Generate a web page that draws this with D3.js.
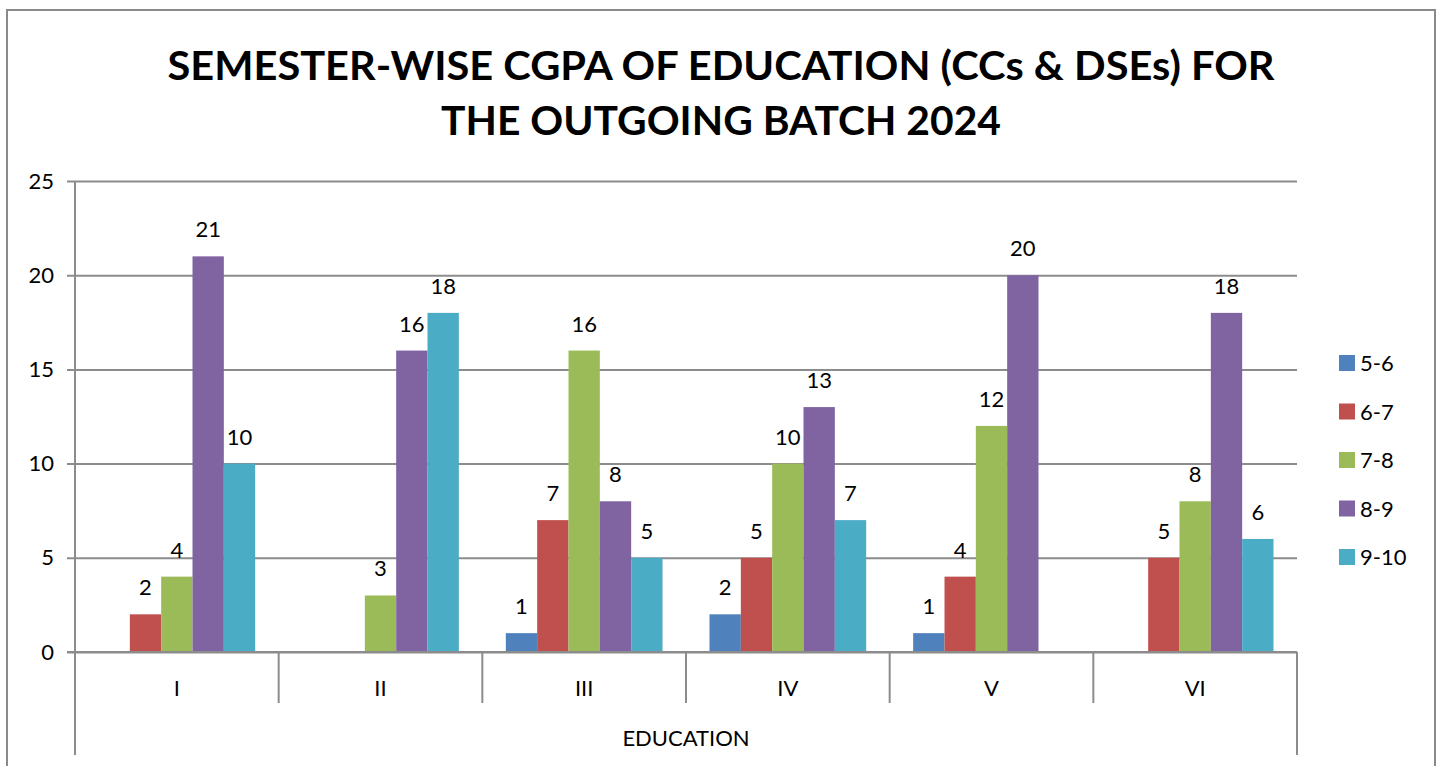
<!DOCTYPE html>
<html>
<head>
<meta charset="utf-8">
<script src="https://cdnjs.cloudflare.com/ajax/libs/d3/7.8.5/d3.min.js"></script>
<style>
  body { margin: 0; background: #fff; }
  svg { display: block; font-family: Lato, "Open Sans", sans-serif; }
</style>
</head>
<body>
<svg></svg>
<script>
// data
var semesters = ["I", "II", "III", "IV", "V", "VI"];
var seriesNames = ["5-6", "6-7", "7-8", "8-9", "9-10"];
var s56 = [0, 0, 1, 2, 1, 0];
var s67 = [2, 0, 7, 5, 4, 5];
var s78 = [4, 3, 16, 10, 12, 8];
var s89 = [21, 16, 8, 13, 20, 18];
var s910 = [10, 18, 5, 7, 0, 6];
var yTicks = [0, 5, 10, 15, 20, 25];

var seriesValues = [s56, s67, s78, s89, s910];
var colors = ["#4F81BD", "#C0504D", "#9BBB59", "#8064A2", "#4BACC6"];

var svgWidth = 1442, svgHeight = 766;
var plot = { left: 75, right: 1297, top: 181, bottom: 652 };
var gridColor = "#8c8c8c";
var fs = 22;

var svg = d3.select("svg")
    .attr("width", svgWidth)
    .attr("height", svgHeight);

// outer chart border
svg.append("rect")
    .attr("x", 7).attr("y", 10)
    .attr("width", 1428).attr("height", 780)
    .attr("fill", "none")
    .attr("stroke", "#8a8a8a")
    .attr("stroke-width", 2);

// title
var title = svg.append("text")
    .attr("text-anchor", "middle")
    .attr("font-weight", "bold")
    .attr("font-size", 40)
    .attr("fill", "#000");
title.append("tspan").attr("x", 721).attr("y", 80)
    .attr("textLength", 1107).attr("lengthAdjust", "spacingAndGlyphs")
    .text("SEMESTER-WISE CGPA OF EDUCATION (CCs & DSEs) FOR");
title.append("tspan").attr("x", 721).attr("y", 135)
    .attr("textLength", 560).attr("lengthAdjust", "spacingAndGlyphs")
    .text("THE OUTGOING BATCH 2024");

// scales
var xScale = d3.scaleBand()
    .domain(semesters)
    .range([plot.left, plot.right])
    .paddingInner(0).paddingOuter(0);

var xInner = d3.scaleBand()
    .domain(seriesNames)
    .range([0, xScale.bandwidth()])
    .paddingInner(0).paddingOuter(0.75);

var yScale = d3.scaleLinear()
    .domain([0, 25])
    .range([plot.bottom, plot.top]);

// y axis with gridlines
var yAxis = d3.axisLeft(yScale)
    .tickValues(yTicks)
    .tickSize(-(plot.right - plot.left))
    .tickPadding(21);

var gy = svg.append("g")
    .attr("transform", "translate(" + plot.left + ",0)")
    .call(yAxis);
gy.select(".domain").remove();
gy.selectAll(".tick line")
    .attr("x1", -8)
    .attr("stroke", gridColor)
    .attr("stroke-width", 2);
gy.selectAll(".tick text")
    .attr("font-size", fs)
    .attr("fill", "#000")
    .attr("font-family", "Lato, 'Open Sans', sans-serif");

// vertical axis line
svg.append("line")
    .attr("x1", plot.left).attr("x2", plot.left)
    .attr("y1", plot.top).attr("y2", 755)
    .attr("stroke", gridColor).attr("stroke-width", 2);

// category separators below the axis
var bounds = semesters.map(function(d) { return xScale(d); }).concat([plot.right]);
svg.selectAll(".sep")
    .data(bounds)
    .enter()
    .append("line")
    .attr("class", "sep")
    .attr("x1", function(d) { return d; })
    .attr("x2", function(d) { return d; })
    .attr("y1", plot.bottom)
    .attr("y2", function(d, i) { return (i === 0 || i === bounds.length - 1) ? 755 : 703; })
    .attr("stroke", gridColor).attr("stroke-width", 2);

// bars
var groups = svg.selectAll(".grp")
    .data(semesters)
    .enter()
    .append("g")
    .attr("class", "grp")
    .attr("transform", function(d) { return "translate(" + xScale(d) + ",0)"; });

groups.selectAll("rect")
    .data(function(d, i) {
        return seriesNames.map(function(s, j) { return { s: s, v: seriesValues[j][i], c: colors[j] }; });
    })
    .enter()
    .append("rect")
    .attr("x", function(d) { return xInner(d.s); })
    .attr("width", xInner.bandwidth())
    .attr("y", function(d) { return yScale(d.v); })
    .attr("height", function(d) { return yScale(0) - yScale(d.v); })
    .attr("fill", function(d) { return d.c; });

// value labels (only non zero)
groups.selectAll(".lbl")
    .data(function(d, i) {
        return seriesNames.map(function(s, j) { return { s: s, v: seriesValues[j][i] }; })
            .filter(function(d) { return d.v > 0; });
    })
    .enter()
    .append("text")
    .attr("class", "lbl")
    .attr("x", function(d) { return xInner(d.s) + xInner.bandwidth() / 2; })
    .attr("y", function(d) { return yScale(d.v) - 19; })
    .attr("text-anchor", "middle")
    .attr("font-size", fs)
    .attr("fill", "#000")
    .text(function(d) { return d.v; });

// redraw x axis line on top
svg.append("line")
    .attr("x1", plot.left - 8).attr("x2", plot.right)
    .attr("y1", plot.bottom).attr("y2", plot.bottom)
    .attr("stroke", gridColor).attr("stroke-width", 2);

// category labels
svg.selectAll(".cat")
    .data(semesters)
    .enter()
    .append("text")
    .attr("class", "cat")
    .attr("x", function(d) { return xScale(d) + xScale.bandwidth() / 2; })
    .attr("y", 696)
    .attr("text-anchor", "middle")
    .attr("font-size", fs)
    .text(function(d) { return d; });

svg.append("text")
    .attr("x", (plot.left + plot.right) / 2)
    .attr("y", 746)
    .attr("text-anchor", "middle")
    .attr("font-size", fs)
    .text("EDUCATION");

// legend
var legend = svg.selectAll(".leg")
    .data(seriesNames)
    .enter()
    .append("g")
    .attr("class", "leg")
    .attr("transform", function(d, i) { return "translate(1339," + (363 + i * 48.5) + ")"; });

legend.append("rect")
    .attr("x", 0).attr("y", -8)
    .attr("width", 16).attr("height", 16)
    .attr("fill", function(d, i) { return colors[i]; });

legend.append("text")
    .attr("x", 21).attr("y", 8)
    .attr("font-size", fs)
    .text(function(d) { return d; });
</script>
</body>
</html>
